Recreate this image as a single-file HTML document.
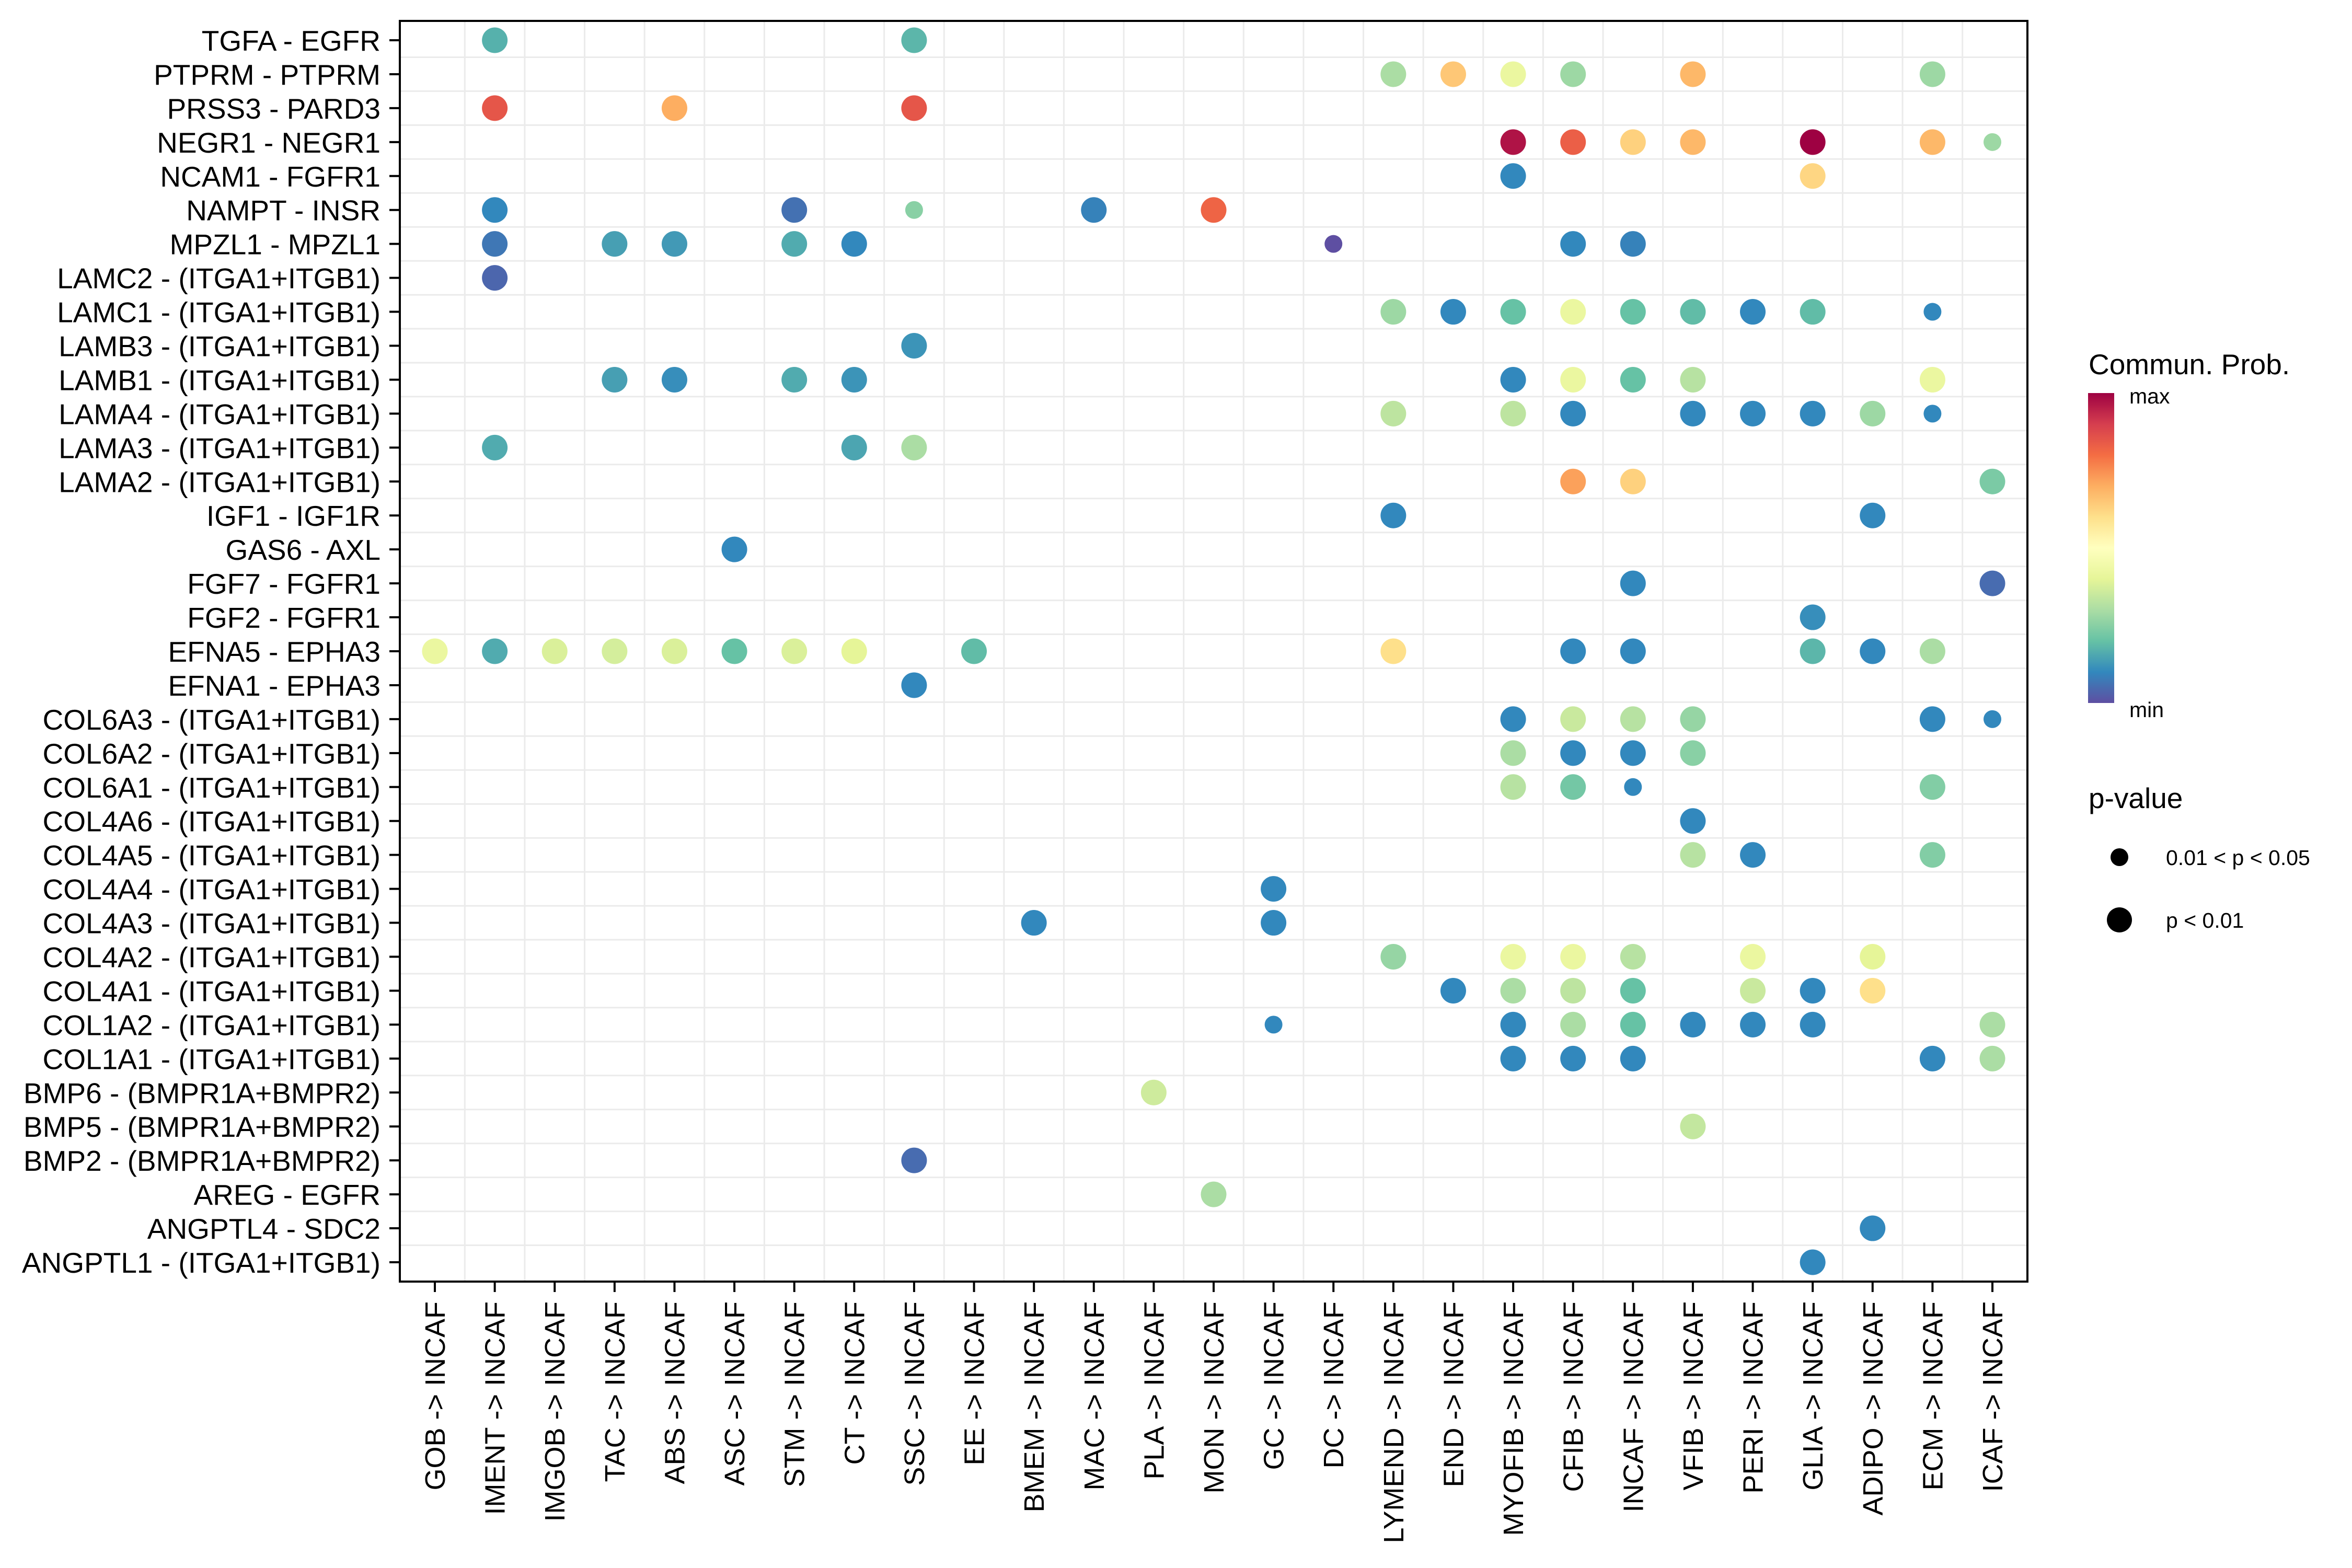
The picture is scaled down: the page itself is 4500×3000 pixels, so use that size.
<!DOCTYPE html>
<html><head><meta charset="utf-8">
<style>
html,body{margin:0;padding:0;background:#fff;}
svg{display:block;font-family:"Liberation Sans",Arial,sans-serif;}
</style></head>
<body>
<svg id="chart" width="4500" height="3000" viewBox="0 0 4500 3000" xmlns="http://www.w3.org/2000/svg">
<rect x="0" y="0" width="4500" height="3000" fill="#fff"/>
<g id="grid"></g>
<g id="points"></g>
<rect x="765" y="40" width="3114" height="2412" fill="none" stroke="#000" stroke-width="4"/>
<g id="yaxis"></g>
<g id="xaxis"></g>
<g id="legend">
  <defs>
    <linearGradient id="spec" x1="0" y1="1" x2="0" y2="0">
      <stop offset="0" stop-color="#5E4FA2"/><stop offset="0.1" stop-color="#3288BD"/>
      <stop offset="0.2" stop-color="#66C2A5"/><stop offset="0.3" stop-color="#ABDDA4"/>
      <stop offset="0.4" stop-color="#E6F598"/><stop offset="0.5" stop-color="#FFFFBF"/>
      <stop offset="0.6" stop-color="#FEE08B"/><stop offset="0.7" stop-color="#FDAE61"/>
      <stop offset="0.8" stop-color="#F46D43"/><stop offset="0.9" stop-color="#D53E4F"/>
      <stop offset="1" stop-color="#9E0142"/>
    </linearGradient>
  </defs>
  <text x="3996" y="716" font-size="55">Commun. Prob.</text>
  <rect x="3995" y="752" width="50" height="593" fill="url(#spec)"/>
  <text x="4074" y="772" font-size="41">max</text>
  <text x="4074" y="1372" font-size="41">min</text>
  <text x="3996" y="1546" font-size="55">p-value</text>
  <circle cx="4055" cy="1640" r="17" fill="#000"/>
  <text x="4144" y="1655" font-size="41">0.01 &lt; p &lt; 0.05</text>
  <circle cx="4055" cy="1760" r="24" fill="#000"/>
  <text x="4144" y="1775" font-size="41">p &lt; 0.01</text>
</g>
</svg>
<script>
const xCategories = ["GOB","IMENT","IMGOB","TAC","ABS","ASC","STM","CT","SSC","EE","BMEM","MAC","PLA","MON","GC","DC","LYMEND","END","MYOFIB","CFIB","INCAF","VFIB","PERI","GLIA","ADIPO","ECM","ICAF"];
const yCategories = ["TGFA - EGFR","PTPRM - PTPRM","PRSS3 - PARD3","NEGR1 - NEGR1","NCAM1 - FGFR1","NAMPT - INSR","MPZL1 - MPZL1","LAMC2 - (ITGA1+ITGB1)","LAMC1 - (ITGA1+ITGB1)","LAMB3 - (ITGA1+ITGB1)","LAMB1 - (ITGA1+ITGB1)","LAMA4 - (ITGA1+ITGB1)","LAMA3 - (ITGA1+ITGB1)","LAMA2 - (ITGA1+ITGB1)","IGF1 - IGF1R","GAS6 - AXL","FGF7 - FGFR1","FGF2 - FGFR1","EFNA5 - EPHA3","EFNA1 - EPHA3","COL6A3 - (ITGA1+ITGB1)","COL6A2 - (ITGA1+ITGB1)","COL6A1 - (ITGA1+ITGB1)","COL4A6 - (ITGA1+ITGB1)","COL4A5 - (ITGA1+ITGB1)","COL4A4 - (ITGA1+ITGB1)","COL4A3 - (ITGA1+ITGB1)","COL4A2 - (ITGA1+ITGB1)","COL4A1 - (ITGA1+ITGB1)","COL1A2 - (ITGA1+ITGB1)","COL1A1 - (ITGA1+ITGB1)","BMP6 - (BMPR1A+BMPR2)","BMP5 - (BMPR1A+BMPR2)","BMP2 - (BMPR1A+BMPR2)","AREG - EGFR","ANGPTL4 - SDC2","ANGPTL1 - (ITGA1+ITGB1)"];
const pointRows = ["TGFA - EGFR","TGFA - EGFR",
"PTPRM - PTPRM","PTPRM - PTPRM","PTPRM - PTPRM","PTPRM - PTPRM","PTPRM - PTPRM","PTPRM - PTPRM",
"PRSS3 - PARD3","PRSS3 - PARD3","PRSS3 - PARD3",
"NEGR1 - NEGR1","NEGR1 - NEGR1","NEGR1 - NEGR1","NEGR1 - NEGR1","NEGR1 - NEGR1","NEGR1 - NEGR1","NEGR1 - NEGR1",
"NCAM1 - FGFR1","NCAM1 - FGFR1",
"NAMPT - INSR","NAMPT - INSR","NAMPT - INSR","NAMPT - INSR","NAMPT - INSR",
"MPZL1 - MPZL1","MPZL1 - MPZL1","MPZL1 - MPZL1","MPZL1 - MPZL1","MPZL1 - MPZL1","MPZL1 - MPZL1","MPZL1 - MPZL1","MPZL1 - MPZL1",
"LAMC2 - (ITGA1+ITGB1)",
"LAMC1 - (ITGA1+ITGB1)","LAMC1 - (ITGA1+ITGB1)","LAMC1 - (ITGA1+ITGB1)","LAMC1 - (ITGA1+ITGB1)","LAMC1 - (ITGA1+ITGB1)","LAMC1 - (ITGA1+ITGB1)","LAMC1 - (ITGA1+ITGB1)","LAMC1 - (ITGA1+ITGB1)","LAMC1 - (ITGA1+ITGB1)",
"LAMB3 - (ITGA1+ITGB1)",
"LAMB1 - (ITGA1+ITGB1)","LAMB1 - (ITGA1+ITGB1)","LAMB1 - (ITGA1+ITGB1)","LAMB1 - (ITGA1+ITGB1)","LAMB1 - (ITGA1+ITGB1)","LAMB1 - (ITGA1+ITGB1)","LAMB1 - (ITGA1+ITGB1)","LAMB1 - (ITGA1+ITGB1)","LAMB1 - (ITGA1+ITGB1)",
"LAMA4 - (ITGA1+ITGB1)","LAMA4 - (ITGA1+ITGB1)","LAMA4 - (ITGA1+ITGB1)","LAMA4 - (ITGA1+ITGB1)","LAMA4 - (ITGA1+ITGB1)","LAMA4 - (ITGA1+ITGB1)","LAMA4 - (ITGA1+ITGB1)","LAMA4 - (ITGA1+ITGB1)",
"LAMA3 - (ITGA1+ITGB1)","LAMA3 - (ITGA1+ITGB1)","LAMA3 - (ITGA1+ITGB1)",
"LAMA2 - (ITGA1+ITGB1)","LAMA2 - (ITGA1+ITGB1)","LAMA2 - (ITGA1+ITGB1)",
"IGF1 - IGF1R","IGF1 - IGF1R",
"GAS6 - AXL",
"FGF7 - FGFR1","FGF7 - FGFR1",
"FGF2 - FGFR1",
"EFNA5 - EPHA3","EFNA5 - EPHA3","EFNA5 - EPHA3","EFNA5 - EPHA3","EFNA5 - EPHA3","EFNA5 - EPHA3","EFNA5 - EPHA3","EFNA5 - EPHA3","EFNA5 - EPHA3","EFNA5 - EPHA3","EFNA5 - EPHA3","EFNA5 - EPHA3","EFNA5 - EPHA3","EFNA5 - EPHA3","EFNA5 - EPHA3",
"EFNA1 - EPHA3",
"COL6A3 - (ITGA1+ITGB1)","COL6A3 - (ITGA1+ITGB1)","COL6A3 - (ITGA1+ITGB1)","COL6A3 - (ITGA1+ITGB1)","COL6A3 - (ITGA1+ITGB1)","COL6A3 - (ITGA1+ITGB1)",
"COL6A2 - (ITGA1+ITGB1)","COL6A2 - (ITGA1+ITGB1)","COL6A2 - (ITGA1+ITGB1)","COL6A2 - (ITGA1+ITGB1)",
"COL6A1 - (ITGA1+ITGB1)","COL6A1 - (ITGA1+ITGB1)","COL6A1 - (ITGA1+ITGB1)","COL6A1 - (ITGA1+ITGB1)",
"COL4A6 - (ITGA1+ITGB1)",
"COL4A5 - (ITGA1+ITGB1)","COL4A5 - (ITGA1+ITGB1)","COL4A5 - (ITGA1+ITGB1)",
"COL4A4 - (ITGA1+ITGB1)",
"COL4A3 - (ITGA1+ITGB1)","COL4A3 - (ITGA1+ITGB1)",
"COL4A2 - (ITGA1+ITGB1)","COL4A2 - (ITGA1+ITGB1)","COL4A2 - (ITGA1+ITGB1)","COL4A2 - (ITGA1+ITGB1)","COL4A2 - (ITGA1+ITGB1)","COL4A2 - (ITGA1+ITGB1)",
"COL4A1 - (ITGA1+ITGB1)","COL4A1 - (ITGA1+ITGB1)","COL4A1 - (ITGA1+ITGB1)","COL4A1 - (ITGA1+ITGB1)","COL4A1 - (ITGA1+ITGB1)","COL4A1 - (ITGA1+ITGB1)","COL4A1 - (ITGA1+ITGB1)",
"COL1A2 - (ITGA1+ITGB1)","COL1A2 - (ITGA1+ITGB1)","COL1A2 - (ITGA1+ITGB1)","COL1A2 - (ITGA1+ITGB1)","COL1A2 - (ITGA1+ITGB1)","COL1A2 - (ITGA1+ITGB1)","COL1A2 - (ITGA1+ITGB1)","COL1A2 - (ITGA1+ITGB1)",
"COL1A1 - (ITGA1+ITGB1)","COL1A1 - (ITGA1+ITGB1)","COL1A1 - (ITGA1+ITGB1)","COL1A1 - (ITGA1+ITGB1)","COL1A1 - (ITGA1+ITGB1)",
"BMP6 - (BMPR1A+BMPR2)","BMP5 - (BMPR1A+BMPR2)","BMP2 - (BMPR1A+BMPR2)","AREG - EGFR","ANGPTL4 - SDC2","ANGPTL1 - (ITGA1+ITGB1)"];
const pointCols = ["IMENT","SSC",
"LYMEND","END","MYOFIB","CFIB","VFIB","ECM",
"IMENT","ABS","SSC",
"MYOFIB","CFIB","INCAF","VFIB","GLIA","ECM","ICAF",
"MYOFIB","GLIA",
"IMENT","STM","SSC","MAC","MON",
"IMENT","TAC","ABS","STM","CT","DC","CFIB","INCAF",
"IMENT",
"LYMEND","END","MYOFIB","CFIB","INCAF","VFIB","PERI","GLIA","ECM",
"SSC",
"TAC","ABS","STM","CT","MYOFIB","CFIB","INCAF","VFIB","ECM",
"LYMEND","MYOFIB","CFIB","VFIB","PERI","GLIA","ADIPO","ECM",
"IMENT","CT","SSC",
"CFIB","INCAF","ICAF",
"LYMEND","ADIPO",
"ASC",
"INCAF","ICAF",
"GLIA",
"GOB","IMENT","IMGOB","TAC","ABS","ASC","STM","CT","EE","LYMEND","CFIB","INCAF","GLIA","ADIPO","ECM",
"SSC",
"MYOFIB","CFIB","INCAF","VFIB","ECM","ICAF",
"MYOFIB","CFIB","INCAF","VFIB",
"MYOFIB","CFIB","INCAF","ECM",
"VFIB",
"VFIB","PERI","ECM",
"GC",
"BMEM","GC",
"LYMEND","MYOFIB","CFIB","INCAF","PERI","ADIPO",
"END","MYOFIB","CFIB","INCAF","PERI","GLIA","ADIPO",
"GC","MYOFIB","CFIB","INCAF","VFIB","PERI","GLIA","ICAF",
"MYOFIB","CFIB","INCAF","ECM","ICAF",
"PLA","VFIB","SSC","MON","ADIPO","GLIA"];
const pointProb = [0.17,0.18,
0.3,0.65,0.42,0.28,0.68,0.28,
0.85,0.7,0.85,
0.97,0.83,0.63,0.68,1.0,0.68,0.28,
0.1,0.62,
0.1,0.06,0.25,0.09,0.82,
0.07,0.14,0.13,0.16,0.1,0.0,0.1,0.09,
0.04,
0.28,0.1,0.2,0.42,0.2,0.19,0.1,0.19,0.1,
0.12,
0.14,0.11,0.16,0.12,0.1,0.42,0.2,0.32,0.42,
0.33,0.33,0.1,0.1,0.1,0.1,0.28,0.1,
0.16,0.15,0.3,
0.72,0.63,0.23,
0.1,0.1,
0.1,
0.1,0.05,
0.11,
0.42,0.16,0.38,0.37,0.38,0.2,0.38,0.4,0.19,0.6,0.1,0.1,0.18,0.1,0.3,
0.1,
0.1,0.35,0.32,0.27,0.1,0.1,
0.3,0.1,0.1,0.25,
0.32,0.22,0.1,0.24,
0.1,
0.32,0.1,0.24,
0.1,
0.1,0.1,
0.27,0.42,0.42,0.32,0.42,0.4,
0.1,0.3,0.33,0.2,0.35,0.1,0.6,
0.1,0.1,0.3,0.2,0.1,0.1,0.1,0.3,
0.1,0.1,0.1,0.1,0.3,
0.36,0.34,0.05,0.3,0.1,0.1];
const pointSig = [1,1, 1,1,1,1,1,1, 1,1,1, 1,1,1,1,1,1,0, 1,1, 1,1,0,1,1, 1,1,1,1,1,0,1,1, 1,
1,1,1,1,1,1,1,1,0, 1, 1,1,1,1,1,1,1,1,1, 1,1,1,1,1,1,1,0, 1,1,1, 1,1,1, 1,1, 1, 1,1, 1,
1,1,1,1,1,1,1,1,1,1,1,1,1,1,1, 1, 1,1,1,1,1,0, 1,1,1,1, 1,1,0,1, 1, 1,1,1, 1, 1,1,
1,1,1,1,1,1, 1,1,1,1,1,1,1, 0,1,1,1,1,1,1,1, 1,1,1,1,1, 1,1,1,1,1,1];

const NS="http://www.w3.org/2000/svg";
const PL=765, PR=3879, PT=40, PB=2452;
const xStep=(3812-832)/(xCategories.length-1);
function xScale(c){return 832+xCategories.indexOf(c)*xStep;}
const yStep=(2415-77)/(yCategories.length-1);
function yScale(r){return 77+yCategories.indexOf(r)*yStep;}
const stops=["#5E4FA2","#3288BD","#66C2A5","#ABDDA4","#E6F598","#FFFFBF","#FEE08B","#FDAE61","#F46D43","#D53E4F","#9E0142"];
function hex(h){return [1,3,5].map(i=>parseInt(h.substr(i,2),16));}
function colorScale(v){v=Math.max(0,Math.min(1,v));const p=v*10,i=Math.min(9,Math.floor(p)),t=p-i;
 const a=hex(stops[i]),b=hex(stops[i+1]);return "rgb("+a.map((x,k)=>Math.round(x+(b[k]-x)*t)).join(",")+")";}
function mk(tag,attrs,parent){const e=document.createElementNS(NS,tag);for(const k in attrs)e.setAttribute(k,attrs[k]);parent.appendChild(e);return e;}

const grid=document.getElementById('grid');
for(let i=0;i<xCategories.length-1;i++){
 const x=832+(i+0.5)*xStep;
 const l=mk('line',{x1:x,x2:x,y1:PT,y2:PB,stroke:'#EBEBEB','stroke-width':3},grid);
 
 
}
for(let i=0;i<yCategories.length-1;i++){
 const y=77+(i+0.5)*yStep;
 const l=mk('line',{x1:PL,x2:PR,y1:y,y2:y,stroke:'#EBEBEB','stroke-width':3},grid);
 
 
}
const yax=document.getElementById('yaxis');
yCategories.forEach(r=>{
 const y=yScale(r);
 const t=mk('line',{x1:745,x2:765,y1:y,y2:y,stroke:'#000','stroke-width':4},yax);
 
 
 const tx=mk('text',{x:728,y:y+20,'font-size':55,'text-anchor':'end',fill:'#000'},yax);
 tx.textContent=r;
 
 
});
const xax=document.getElementById('xaxis');
xCategories.forEach(c=>{
 const x=xScale(c);
 const t=mk('line',{x1:x,x2:x,y1:2452,y2:2472,stroke:'#000','stroke-width':4},xax);
 
 
 const tx=mk('text',{x:0,y:0,'font-size':54,'text-anchor':'end',fill:'#000',transform:`translate(${x+19},2490) rotate(-90)`},xax);
 tx.textContent=c+" -> INCAF";
 
 
});
const pts=document.getElementById('points');
pointRows.forEach((r,i)=>{
 const c=mk('circle',{cx:xScale(pointCols[i]),cy:yScale(r),r:pointSig[i]?24.5:17,fill:colorScale(pointProb[i])},pts);
 
 
});
</script>
</body></html>
